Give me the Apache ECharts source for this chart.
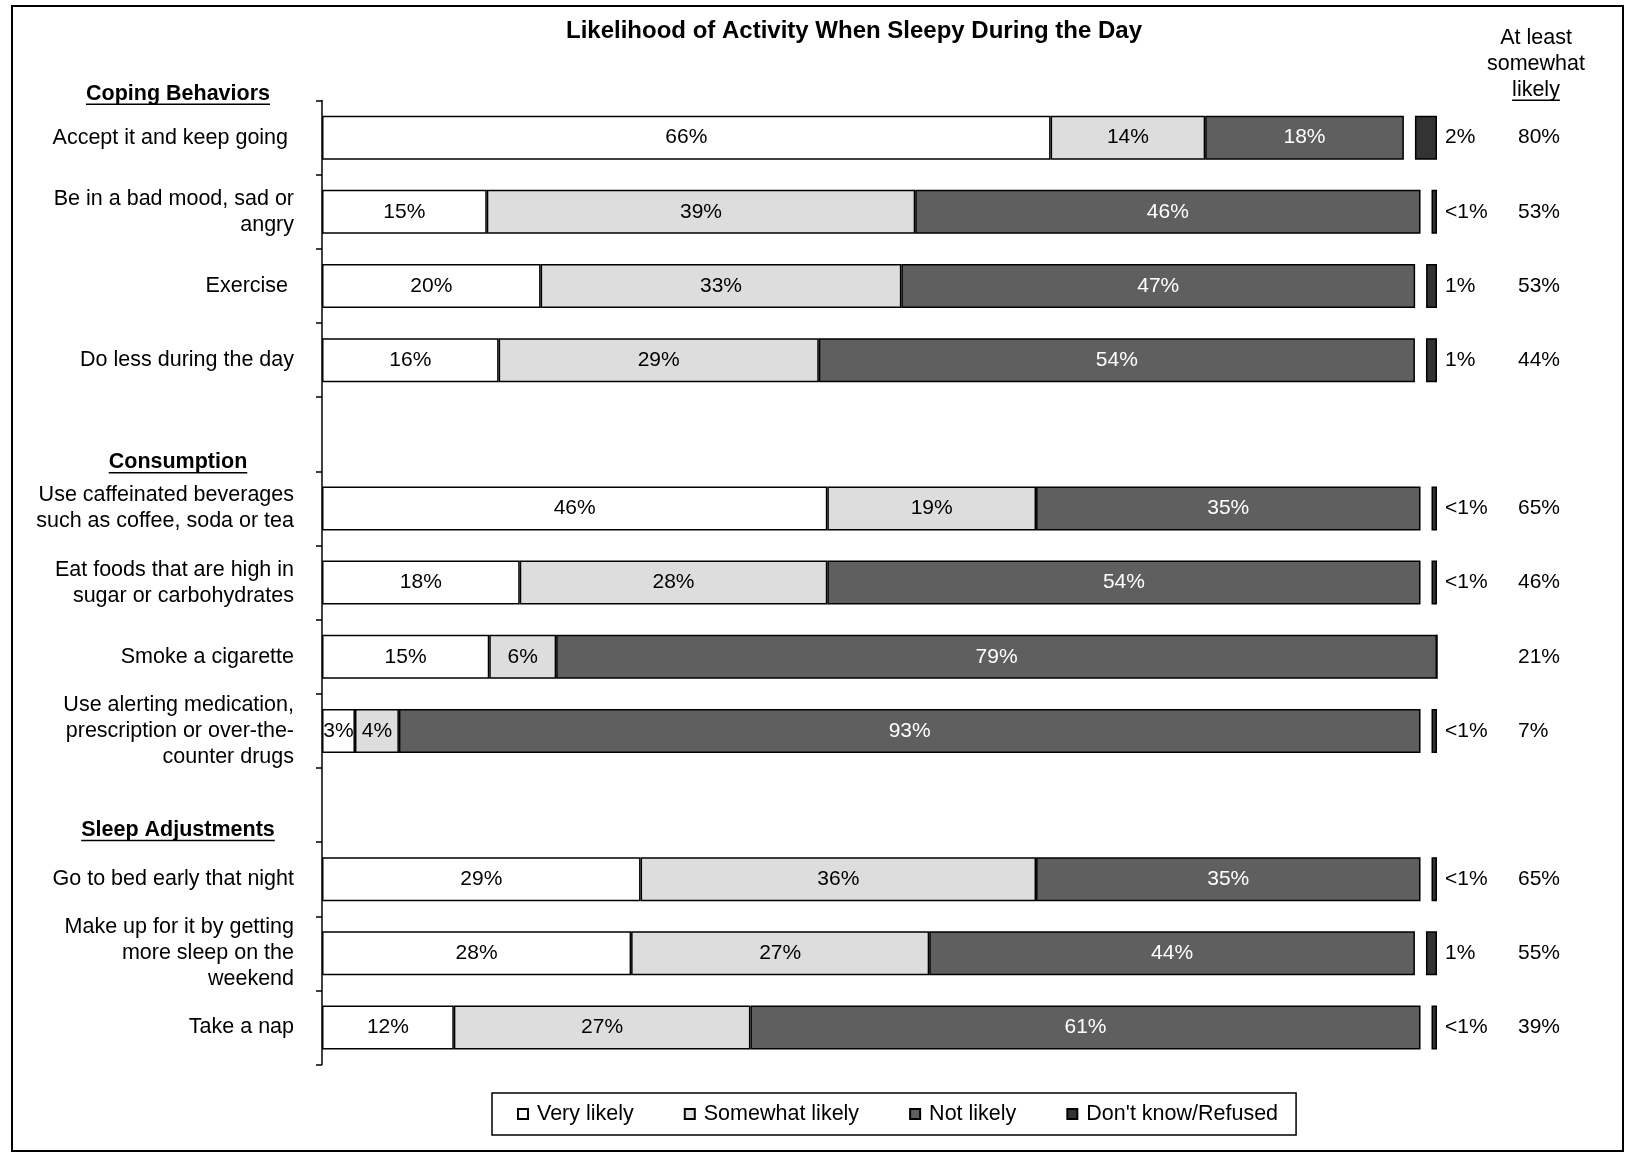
<!DOCTYPE html>
<html>
<head>
<meta charset="utf-8">
<script src="https://cdn.jsdelivr.net/npm/echarts@6/dist/echarts.min.js"></script>
<style>
  html, body { margin: 0; padding: 0; background: #fff; }
  #chart { width: 1627px; height: 1153px; }
</style>
</head>
<body>
<div id="chart"></div>
<script>
// Survey rows, top to bottom; empty strings are spacer rows between groups
const categories = [
  'Accept it and keep going ',
  'Be in a bad mood, sad or\nangry',
  'Exercise ',
  'Do less during the day',
  '',
  'Use caffeinated beverages\nsuch as coffee, soda or tea',
  'Eat foods that are high in\nsugar or carbohydrates',
  'Smoke a cigarette',
  'Use alerting medication,\nprescription or over-the-\ncounter drugs',
  '',
  'Go to bed early that night',
  'Make up for it by getting\nmore sleep on the\nweekend',
  'Take a nap'
];
const groupHeaders = ['Coping Behaviors', 'Consumption', 'Sleep Adjustments'];
const groupFirstRow = [0, 5, 10];

const seriesNames = ['Very likely', 'Somewhat likely', 'Not likely', "Don't know/Refused"];
const veryLikely     = [66, 15, 20, 16, null, 46, 18, 15,  3, null, 29, 28, 12];
const somewhatLikely = [14, 39, 33, 29, null, 19, 28,  6,  4, null, 36, 27, 27];
const notLikely      = [18, 46, 47, 54, null, 35, 54, 79, 93, null, 35, 44, 61];
// "<1%" answers are kept as 0.5
const dontKnow       = [ 2, 0.5, 1,  1, null, 0.5, 0.5, 0, 0.5, null, 0.5, 1, 0.5];
const atLeastSomewhat = [80, 53, 53, 44, null, 65, 46, 21, 7, null, 65, 55, 39];

const FONT = "'Liberation Sans', Arial, Helvetica, sans-serif";

// Each row is a 100% bar: the answers plus a one-point blank before "Don't know"
const spacer = dontKnow.map(v => (v ? 1 : 0));
const rowTotal = categories.map((_, i) =>
  veryLikely[i] == null ? null :
  veryLikely[i] + somewhatLikely[i] + notLikely[i] + spacer[i] + dontKnow[i]);
const share = arr => arr.map((v, i) => (v == null ? null : v / rowTotal[i] * 100));

const pctText = v => (v == null || v === 0 ? '' : (v < 1 ? '<1%' : v + '%'));

const colors = ['#ffffff', '#dddddd', '#5f5f5f', '#333333'];
const raw = [veryLikely, somewhatLikely, notLikely, dontKnow];

function barSeries(k, extraLabel) {
  return {
    name: seriesNames[k],
    type: 'bar',
    stack: 'row',
    barWidth: 44,
    data: share(raw[k]),
    itemStyle: { color: colors[k], borderColor: '#000', borderWidth: 1.5 },
    label: Object.assign({
      show: true,
      position: 'inside',
      fontFamily: FONT,
      fontSize: 21,
      color: k === 2 ? '#fff' : '#000',
      formatter: p => pctText(raw[k][p.dataIndex])
    }, extraLabel || {}),
    emphasis: { disabled: true }
  };
}

const series = [
  barSeries(0),
  barSeries(1),
  barSeries(2),
  {
    name: 'blank',
    type: 'bar',
    stack: 'row',
    barWidth: 44,
    data: share(spacer),
    itemStyle: { color: 'rgba(0,0,0,0)', borderWidth: 0 },
    label: { show: false },
    emphasis: { disabled: true },
    silent: true
  },
  barSeries(3, { position: 'right', distance: 8, color: '#000' })
];

const chart = echarts.init(document.getElementById('chart'), null, { renderer: 'canvas' });

chart.setOption({
  animation: false,
  backgroundColor: '#fff',
  title: {
    text: 'Likelihood of Activity When Sleepy During the Day',
    left: 854,
    top: 19,
    textAlign: 'center',
    padding: 0,
    textStyle: { fontFamily: FONT, fontSize: 24, fontWeight: 'bold', color: '#000' }
  },
  grid: { left: 322, right: 190, top: 100.6, bottom: 88.4 },
  xAxis: { type: 'value', min: 0, max: 100, show: false },
  yAxis: [
    {
      type: 'category',
      data: categories,
      inverse: true,
      axisLine: { show: true, lineStyle: { color: '#000', width: 1.5 } },
      axisTick: { show: true, inside: false, length: 6, lineStyle: { color: '#000', width: 1.5 } },
      axisLabel: { fontFamily: FONT, fontSize: 21.5, color: '#000', margin: 28, lineHeight: 26, padding: [6, 0, 0, 0] },
      splitLine: { show: false }
    },
    {
      type: 'category',
      position: 'right',
      data: atLeastSomewhat.map(v => (v == null ? '' : v + '%')),
      inverse: true,
      axisLine: { show: false },
      axisTick: { show: false },
      axisLabel: { fontFamily: FONT, fontSize: 21, color: '#000', margin: 81, align: 'left', padding: [6, 0, 0, 0] },
      splitLine: { show: false }
    }
  ],
  legend: {
    data: seriesNames,
    left: 492,
    top: 1093,
    orient: 'horizontal',
    padding: [10, 18, 10, 25],
    borderColor: '#000',
    borderWidth: 1.5,
    itemWidth: 10,
    itemHeight: 10,
    itemGap: 50,
    icon: 'rect',
    selectedMode: false,
    textStyle: { fontFamily: FONT, fontSize: 21.5, color: '#000', padding: [0, 0, 0, 4] }
  },
  series: series
});

// Group headings, the right-hand column heading and the frame
const band = (chart.convertToPixel({ yAxisIndex: 0 }, 1) - chart.convertToPixel({ yAxisIndex: 0 }, 0));
const headerX = 178;
const headerLift = [0.59, 0.62, 0.66];
const measure = document.createElement('canvas').getContext('2d');
const graphics = [];

function underlinedText(text, x, y, bold, size) {
  const font = (bold ? 'bold ' : '') + size + 'px ' + FONT;
  measure.font = font;
  const w = measure.measureText(text).width;
  graphics.push({
    type: 'text',
    style: { text: text, x: x, y: y, font: font, fill: '#000',
             textAlign: 'center', textVerticalAlign: 'middle', align: 'center', verticalAlign: 'middle' }
  });
  graphics.push({
    type: 'line',
    shape: { x1: x - w / 2, y1: y + size * 0.48, x2: x + w / 2, y2: y + size * 0.48 },
    style: { stroke: '#000', lineWidth: 1.5 }
  });
}

groupHeaders.forEach((h, g) => {
  const y = chart.convertToPixel({ yAxisIndex: 0 }, groupFirstRow[g]) - band * headerLift[g];
  underlinedText(h, headerX, y, true, 21.5);
});

['At least', 'somewhat'].forEach((t, i) => {
  graphics.push({
    type: 'text',
    style: { text: t, x: 1536, y: 38 + i * 26, font: '21.5px ' + FONT, fill: '#000',
             textAlign: 'center', textVerticalAlign: 'middle', align: 'center', verticalAlign: 'middle' }
  });
});
underlinedText('likely', 1536, 90, false, 21.5);

graphics.push({
  type: 'rect',
  shape: { x: 12, y: 6, width: 1611, height: 1145 },
  style: { fill: 'none', stroke: '#000', lineWidth: 2 },
  z: -1
});

chart.setOption({ graphic: graphics });
</script>
</body>
</html>
